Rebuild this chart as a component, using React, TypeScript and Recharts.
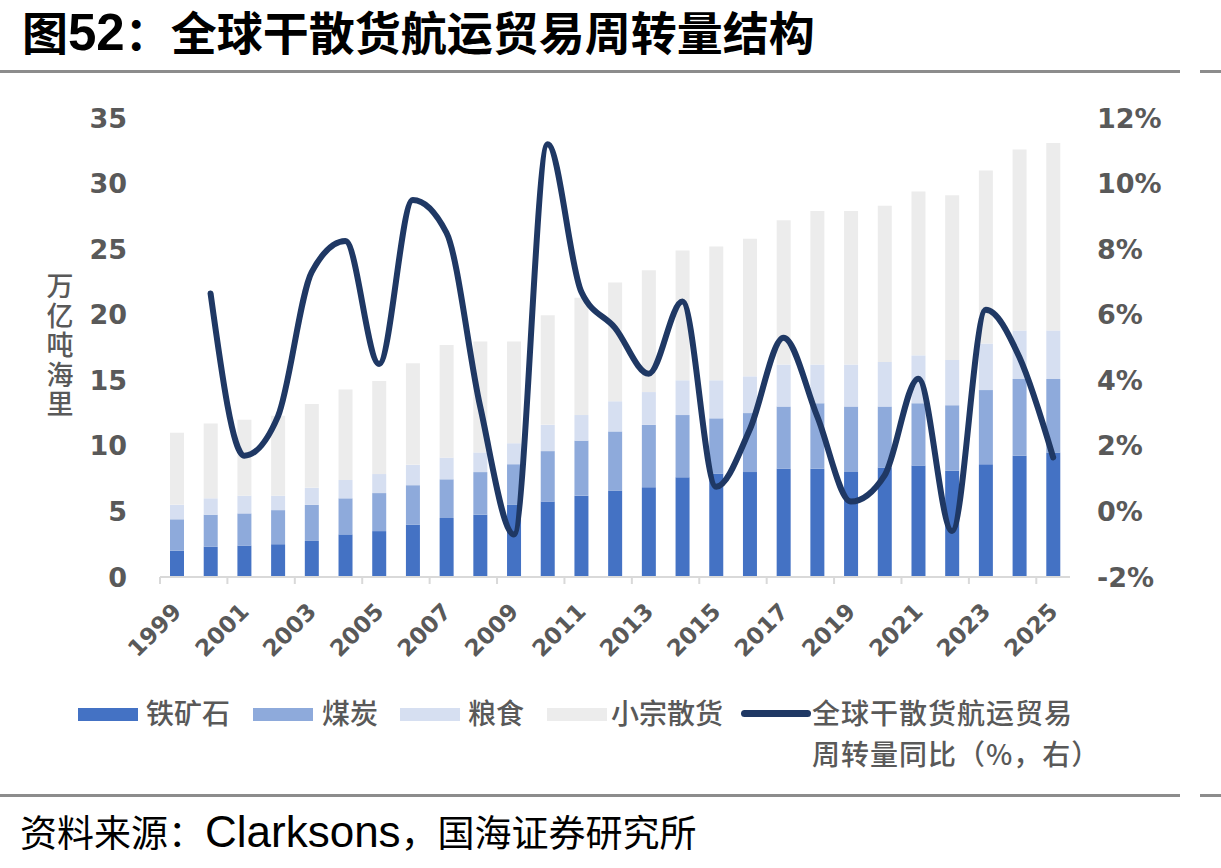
import React from 'react';
import { ComposedChart, Bar, Line, XAxis, YAxis } from 'recharts';

const years = [
  '1999', '2000', '2001', '2002', '2003', '2004', '2005', '2006', '2007',
  '2008', '2009', '2010', '2011', '2012', '2013', '2014', '2015', '2016',
  '2017', '2018', '2019', '2020', '2021', '2022', '2023', '2024', '2025',
];

// 万亿吨海里
const ironOre = [2.0, 2.3, 2.4, 2.5, 2.75, 3.25, 3.5, 4.0, 4.5, 4.75, 5.5, 5.75, 6.2, 6.6, 6.85, 7.6, 7.9, 8.0, 8.25, 8.25, 8.0, 8.35, 8.5, 8.1, 8.6, 9.25, 9.5];
const coal = [2.4, 2.45, 2.45, 2.6, 2.75, 2.75, 2.9, 3.0, 2.95, 3.25, 3.1, 3.85, 4.2, 4.5, 4.75, 4.75, 4.2, 4.5, 4.75, 5.0, 5.0, 4.65, 4.75, 5.0, 5.65, 5.85, 5.6];
const grain = [1.1, 1.25, 1.35, 1.1, 1.3, 1.4, 1.45, 1.55, 1.65, 1.5, 1.6, 2.0, 1.95, 2.3, 2.5, 2.65, 2.9, 2.8, 3.2, 2.95, 3.2, 3.4, 3.65, 3.45, 3.55, 3.7, 3.7];
const minorBulk = [5.5, 5.7, 5.8, 6.1, 6.4, 6.9, 7.1, 7.75, 8.6, 8.45, 7.75, 8.35, 8.95, 9.05, 9.3, 9.9, 10.2, 10.5, 11.0, 11.7, 11.7, 11.9, 12.5, 12.55, 13.2, 13.8, 14.3];

// 同比 %
const tradeGrowth = [null, 6.65, 1.7, 2.9, 7.3, 8.25, 4.5, 9.5, 8.5, 3.2, -0.7, 11.2, 6.7, 5.6, 4.2, 6.4, 0.75, 2.5, 5.3, 2.9, 0.3, 1.1, 4.05, -0.6, 6.15, 4.7, 1.65];

const leftTicks = [0, 5, 10, 15, 20, 25, 30, 35];
const rightTicks = [-2, 0, 2, 4, 6, 8, 10, 12];

const data = years.map((year, i) => ({
  year,
  iron: ironOre[i],
  coal: coal[i],
  grain: grain[i],
  minor: minorBulk[i],
  growth: tradeGrowth[i],
}));

const COLORS = {
  iron: '#4472c4',
  coal: '#8eaadb',
  grain: '#d6dff1',
  minor: '#ececec',
  line: '#1f3864',
};

const cjk = "'Noto Sans CJK SC', 'Noto Sans', sans-serif";
const tickFont = "'DejaVu Sans', 'Liberation Sans', sans-serif";
const gray = '#595959';

function YearTick({ x, y, payload }: any) {
  const half = payload?.offset ?? 0;
  return (
    <g>
      <line x1={x - half} y1={y} x2={x - half} y2={y + 7} stroke="#d9d9d9" strokeWidth={2} />
      <text
        x={0}
        y={0}
        transform={`translate(${x + 6},${y + 36}) rotate(-45)`}
        textAnchor="end"
        fontFamily={tickFont}
        fontWeight={700}
        fontSize={23}
        fill={gray}
      >
        {payload.value}
      </text>
    </g>
  );
}

const legendItems = [
  { label: '铁矿石', color: COLORS.iron, swatch: 78, text: 146 },
  { label: '煤炭', color: COLORS.coal, swatch: 253, text: 322 },
  { label: '粮食', color: COLORS.grain, swatch: 400, text: 468 },
  { label: '小宗散货', color: COLORS.minor, swatch: 547, text: 611 },
];

export default function App() {
  return (
    <div style={{ position: 'absolute', left: 0, top: 0, width: 1221, height: 868, background: '#fff', overflow: 'hidden' }}>
      <div
        style={{
          position: 'absolute', left: 22, top: 6, fontFamily: `'Liberation Sans', ${cjk}`,
          fontWeight: 700, fontSize: 46, lineHeight: '54px', color: '#000', whiteSpace: 'nowrap',
        }}
      >
        图<span style={{ fontSize: 51 }}>52</span>：全球干散货航运贸易周转量结构
      </div>
      <div style={{ position: 'absolute', left: 0, top: 70, width: 1180, height: 3, background: '#8c8c8c' }} />
      <div style={{ position: 'absolute', left: 1200, top: 70, width: 21, height: 3, background: '#8c8c8c' }} />

      <div
        style={{
          position: 'absolute', left: 45, top: 270, width: 30, fontFamily: cjk, fontSize: 27,
          lineHeight: '29.6px', color: gray, fontWeight: 500, textAlign: 'center',
        }}
      >
        万亿吨海里
      </div>

      <ComposedChart
        width={1221}
        height={700}
        data={data}
        margin={{ top: 118, right: 51, bottom: 43, left: 60 }}
        style={{ position: 'absolute', left: 0, top: 0 }}
      >
        <XAxis
          dataKey="year"
          interval={1}
          height={80}
          tickSize={0}
          tickMargin={0}
          tickLine={false}
          axisLine={{ stroke: '#d9d9d9', strokeWidth: 2 }}
          tick={<YearTick />}
        />
        <YAxis
          yAxisId="left"
          domain={[0, 35]}
          ticks={leftTicks}
          width={100}
          axisLine={false}
          tickLine={false}
          tickSize={0}
          tickMargin={33}
          tick={{ fontFamily: tickFont, fontWeight: 700, fontSize: 27, fill: gray }}
        />
        <YAxis
          yAxisId="right"
          orientation="right"
          domain={[-2, 12]}
          ticks={rightTicks}
          width={100}
          axisLine={false}
          tickLine={false}
          tickSize={0}
          tickMargin={27}
          tickFormatter={(v: number) => `${v}%`}
          tick={{ fontFamily: tickFont, fontWeight: 700, fontSize: 27, fill: gray, textAnchor: 'start' }}
        />
        <Bar dataKey="iron" stackId="a" yAxisId="left" fill={COLORS.iron} barSize={14} isAnimationActive={false} />
        <Bar dataKey="coal" stackId="a" yAxisId="left" fill={COLORS.coal} barSize={14} isAnimationActive={false} />
        <Bar dataKey="grain" stackId="a" yAxisId="left" fill={COLORS.grain} barSize={14} isAnimationActive={false} />
        <Bar dataKey="minor" stackId="a" yAxisId="left" fill={COLORS.minor} barSize={14} isAnimationActive={false} />
        <Line
          dataKey="growth"
          yAxisId="right"
          type="monotone"
          stroke={COLORS.line}
          strokeWidth={6}
          strokeLinecap="round"
          dot={false}
          activeDot={false}
          isAnimationActive={false}
        />
      </ComposedChart>

      <div style={{ position: 'absolute', left: 0, top: 692, width: 1221, height: 90, fontFamily: cjk, fontSize: 28, color: gray, fontWeight: 500 }}>
        {legendItems.map((it) => (
          <React.Fragment key={it.label}>
            <span style={{ position: 'absolute', left: it.swatch, top: 16, width: 60, height: 13, background: it.color }} />
            <span style={{ position: 'absolute', left: it.text, top: 0, lineHeight: '41px', whiteSpace: 'nowrap' }}>{it.label}</span>
          </React.Fragment>
        ))}
        <span style={{ position: 'absolute', left: 741, top: 18, width: 70, height: 7, borderRadius: 4, background: COLORS.line }} />
        <span style={{ position: 'absolute', left: 812, top: 0, lineHeight: '41px', whiteSpace: 'nowrap', letterSpacing: 1 }}>
          全球干散货航运贸易
          <br />
          周转量同比（%，右）
        </span>
      </div>

      <div style={{ position: 'absolute', left: 0, top: 794, width: 1180, height: 3, background: '#8c8c8c' }} />
      <div style={{ position: 'absolute', left: 1200, top: 794, width: 21, height: 3, background: '#8c8c8c' }} />

      <div
        style={{
          position: 'absolute', left: 20, top: 808, fontFamily: `'Liberation Sans', ${cjk}`,
          fontSize: 37, lineHeight: '48px', color: '#000', whiteSpace: 'nowrap',
        }}
      >
        资料来源：<span style={{ fontSize: 44 }}>Clarksons</span>，国海证券研究所
      </div>
    </div>
  );
}
